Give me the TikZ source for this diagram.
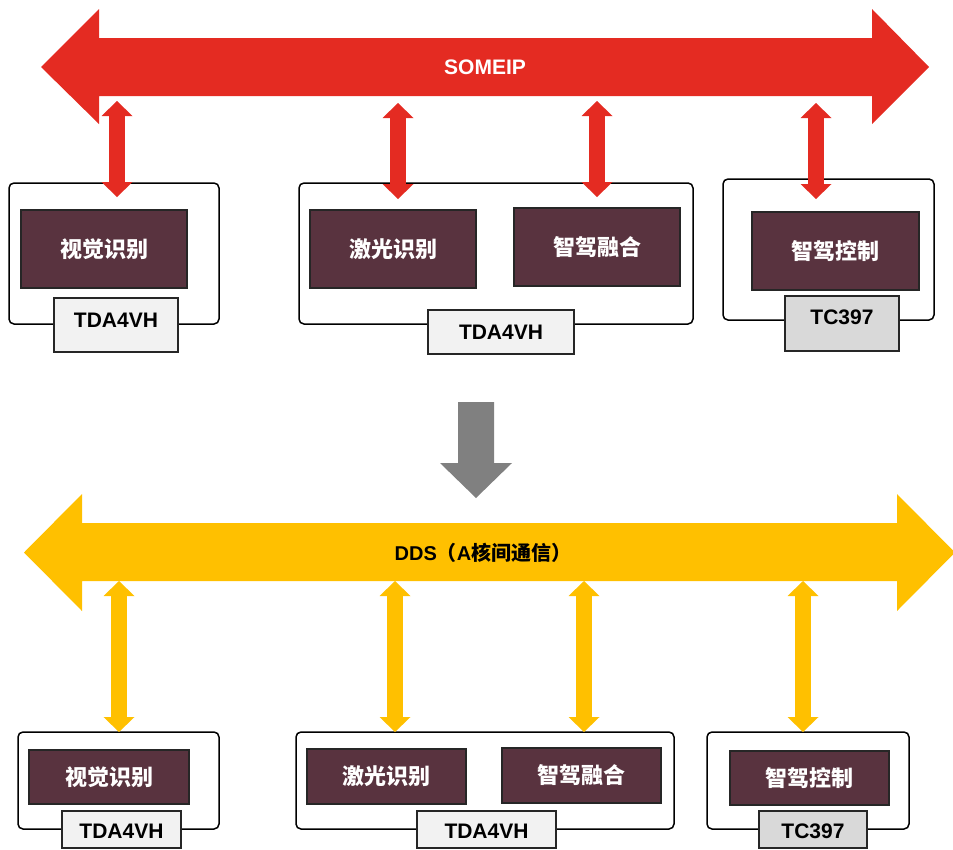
\documentclass[tikz,border=0pt]{standalone}
\usepackage{fontspec}
\setmainfont{Liberation Sans}
\newfontfamily\cjk{Noto Sans CJK SC}
\usetikzlibrary{arrows.meta}

\definecolor{busred}{HTML}{E42B22}
\definecolor{busyellow}{HTML}{FFC000}
\definecolor{swfill}{HTML}{59333F}
\definecolor{chiplight}{HTML}{F2F2F2}
\definecolor{chipgray}{HTML}{D9D9D9}
\definecolor{flowgray}{HTML}{808080}

\begin{document}
\begin{tikzpicture}[x=1pt,y=-1pt,
  board/.style={draw=black, line width=1.5pt, rounded corners=5pt, fill=white},
  swmod/.style={draw=black!85, line width=1.5pt, fill=swfill, text=white,
    font=\cjk\bfseries\fontsize{22}{22}\selectfont},
  chipbox/.style={draw=black!85, line width=1.3pt, fill=chiplight},
  chipbox2/.style={chipbox, fill=chipgray},
  chiptxt/.style={font=\bfseries\fontsize{21}{21}\selectfont, inner sep=0pt},
  bustxt/.style={font=\bfseries\fontsize{21}{21}\selectfont, inner sep=0pt},
  tipA/.tip={Triangle[width=31pt,length=15pt,line width=0pt]},
  redlink/.style={draw=busred, line width=16pt, tipA-tipA},
  yellink/.style={draw=busyellow, line width=16pt, tipA-tipA},
]
\useasboundingbox (0,0) rectangle (953,849);

% ---------------- SOME/IP bus ----------------
\fill[busred] (41,67) -- (99,9) -- (99,38) -- (872,38) -- (872,9) -- (929,67)
  -- (872,124) -- (872,96) -- (99,96) -- (99,124) -- cycle;
\node[bustxt, text=white] (someip) at (485,67) {SOMEIP};

% boards (upper row)
\node[board, minimum width=210, minimum height=141] (brdA) at (114,253.5) {};
\node[board, minimum width=394, minimum height=141] (brdB) at (496,253.5) {};
\node[board, minimum width=211, minimum height=141] (brdC) at (828.5,249.5) {};

% links to the SOME/IP bus
\coordinate (ra1t) at (117,101); \coordinate (ra1b) at (117,197);
\coordinate (ra2t) at (398,103); \coordinate (ra2b) at (398,199);
\coordinate (ra3t) at (597,101); \coordinate (ra3b) at (597,197);
\coordinate (ra4t) at (816,103); \coordinate (ra4b) at (816,199);
\draw[redlink] (ra1t) -- (ra1b);
\draw[redlink] (ra2t) -- (ra2b);
\draw[redlink] (ra3t) -- (ra3b);
\draw[redlink] (ra4t) -- (ra4b);

% software modules (upper row)
\node[swmod, minimum width=166, minimum height=78] (visA) at (104,249) {视觉识别};
\node[swmod, minimum width=166, minimum height=78] (lidA) at (393,249) {激光识别};
\node[swmod, minimum width=166, minimum height=78] (fusA) at (597,247) {智驾融合};
\node[swmod, minimum width=167, minimum height=78] (ctlA) at (835.5,251) {智驾控制};

% chips (upper row)
\node[chipbox, minimum width=124, minimum height=54] (chipA1) at (116,325) {};
\node[chiptxt] (chipA1t) at (116,320) {TDA4VH};
\node[chipbox, minimum width=146, minimum height=44] (chipA2) at (501,332) {};
\node[chiptxt] (chipA2t) at (501,332) {TDA4VH};
\node[chipbox2, minimum width=114, minimum height=55] (chipA3) at (842,323.5) {};
\node[chiptxt] (chipA3t) at (842,317) {TC397};

% ---------------- migration arrow ----------------
\fill[flowgray] (458,402) -- (494,402) -- (494,463) -- (512,463) -- (476,498)
  -- (440,463) -- (458,463) -- cycle;

% ---------------- DDS bus ----------------
\fill[busyellow] (24,552.5) -- (82,494) -- (82,523) -- (897,523) -- (897,494)
  -- (955,552.5) -- (897,611) -- (897,581) -- (82,581) -- (82,611) -- cycle;
\node[bustxt, font=\bfseries\fontsize{20}{20}\selectfont] (dds) at (483,553)
  {DDS{\cjk （}A{\cjk 核间通信）}};

% boards (lower row)
\node[board, minimum width=201, minimum height=97] (brdD) at (118.5,780.5) {};
\node[board, minimum width=378, minimum height=97] (brdE) at (485,780.5) {};
\node[board, minimum width=202, minimum height=97] (brdF) at (808,780.5) {};

% links to the DDS bus
\coordinate (ya1t) at (119,581); \coordinate (ya1b) at (119,732);
\coordinate (ya2t) at (395,581); \coordinate (ya2b) at (395,732);
\coordinate (ya3t) at (584,581); \coordinate (ya3b) at (584,732);
\coordinate (ya4t) at (803,581); \coordinate (ya4b) at (803,732);
\draw[yellink] (ya1t) -- (ya1b);
\draw[yellink] (ya2t) -- (ya2b);
\draw[yellink] (ya3t) -- (ya3b);
\draw[yellink] (ya4t) -- (ya4b);

% software modules (lower row)
\node[swmod, minimum width=160, minimum height=54] (visB) at (109,777) {视觉识别};
\node[swmod, minimum width=159, minimum height=55] (lidB) at (386.5,776.5) {激光识别};
\node[swmod, minimum width=159, minimum height=55] (fusB) at (581.5,775.5) {智驾融合};
\node[swmod, minimum width=159, minimum height=54] (ctlB) at (809.5,778) {智驾控制};

% chips (lower row)
\node[chipbox, minimum width=119, minimum height=37] (chipB1) at (121.5,829.5) {};
\node[chiptxt] (chipB1t) at (121.5,831) {TDA4VH};
\node[chipbox, minimum width=139, minimum height=37] (chipB2) at (486.5,829.5) {};
\node[chiptxt] (chipB2t) at (486.5,831) {TDA4VH};
\node[chipbox2, minimum width=108, minimum height=37] (chipB3) at (813,829.5) {};
\node[chiptxt] (chipB3t) at (813,831) {TC397};
\end{tikzpicture}
\end{document}
